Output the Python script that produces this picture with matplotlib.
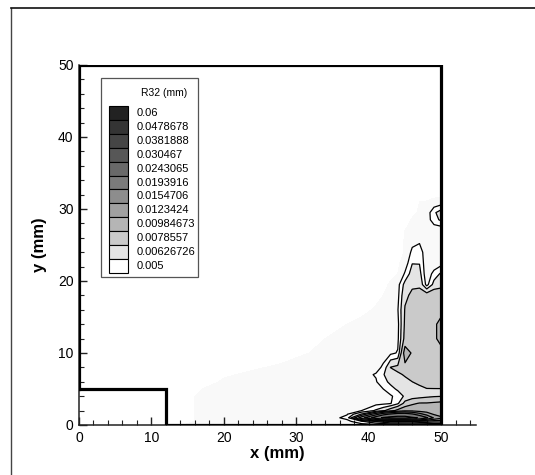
import numpy as np
import matplotlib
matplotlib.use("Agg")
import matplotlib.pyplot as plt
from matplotlib.patches import Rectangle
from matplotlib.lines import Line2D
from matplotlib.transforms import Affine2D

plt.rcParams['font.family'] = ['Liberation Sans', 'DejaVu Sans']

# ---- data ----
legend_title = "R32 (mm)"
level_labels = ['0.06', '0.0478678', '0.0381888', '0.030467', '0.0243065',
                '0.0193916', '0.0154706', '0.0123424', '0.00984673',
                '0.0078557', '0.00626726', '0.005']
swatch_colors = ['#222222', '#343434', '#454545', '#575757', '#696969',
                 '#7b7b7b', '#8d8d8d', '#a0a0a0', '#b5b5b5',
                 '#cacaca', '#e4e4e4', '#ffffff']
x_ticks = [0, 10, 20, 30, 40, 50]
y_ticks = [0, 10, 20, 30, 40, 50]

# grid nodes (mm)
x_nodes = [12, 20, 28, 34, 37, 39, 41, 42, 43, 44, 45, 46, 47, 48, 49, 50]
y_nodes = [0, 0.5, 1.0, 1.5, 2, 3, 4, 5, 6, 7, 8, 10, 12, 14, 16, 18, 19.5,
           21, 22.5, 24, 25.5, 27, 28.5, 29.5, 31, 33, 40, 50]
# R32 values, in micrometres (rows = y_nodes)
r32_um = [
    [3.3, 4, 4, 4, 4.2, 4.4, 4.5, 4.5, 4.6, 4.6, 4.7, 4.7, 4.7, 4.7, 4.7, 4.7],
    [3, 4, 4, 4.2, 4.6, 6, 8, 9, 10, 10, 10, 10, 9.5, 9, 8.5, 8.5],
    [3, 4, 4, 4.2, 5.4, 14, 22, 25, 26, 26, 26, 25, 24, 20, 15, 13],
    [3, 4, 4, 4.2, 4.9, 8, 14, 18, 20, 22, 22, 20, 17, 14, 12, 11],
    [3, 4, 4, 4, 4.4, 5, 6.5, 7.5, 9, 10.5, 11.5, 11.5, 11, 11, 11, 11],
    [3, 4, 4, 4, 4.3, 4.5, 4.6, 4.7, 4.9, 6, 8.5, 9.5, 10, 10, 10.2, 10.4],
    [3, 4, 4, 4, 4.2, 4.4, 4.5, 4.6, 4.8, 5.5, 6.5, 7, 7.2, 7.5, 7.7, 7.8],
    [3, 3.8, 4, 4, 4.2, 4.5, 4.7, 5, 5.8, 6.5, 7, 7.2, 7.5, 7.8, 7.8, 7.8],
    [2.5, 3.6, 4, 4, 4.2, 4.6, 4.9, 5.8, 6.6, 7, 7.5, 7.85, 8.2, 8.5, 8.7, 8.8],
    [2, 3.4, 3.9, 4, 4.2, 4.6, 5.1, 6.2, 6.8, 7.6, 8.0, 8.4, 8.8, 9.0, 9.2, 9.3],
    [1.5, 3, 3.7, 4, 4.1, 4.3, 4.6, 5.2, 7.9, 8.3, 9.3, 9.4, 9.4, 9.4, 9.5, 9.5],
    [1, 2, 3, 3.8, 4, 4.2, 4.4, 4.5, 4.7, 5.1, 11, 9.6, 9.4, 9.4, 9.5, 9.6],
    [0.5, 1.5, 2.5, 3.5, 3.8, 4, 4.2, 4.3, 4.5, 4.7, 8.5, 9.3, 9.4, 9.5, 9.7, 10.1],
    [0, 1, 2, 3, 3.5, 3.7, 3.9, 4, 4.2, 4.6, 8.2, 9, 9.3, 9.5, 9.7, 10.1],
    [0, 0.5, 1.5, 2.5, 3, 3.3, 3.6, 3.8, 4, 4.9, 8, 8.6, 9, 9.3, 9.5, 9.6],
    [0, 0, 1, 2, 2.5, 3, 3.3, 3.5, 3.8, 4.6, 7.5, 8.2, 8.6, 8.9, 9.2, 9.3],
    [0, 0, 0.5, 1.5, 2, 2.5, 3, 3.3, 3.6, 4.5, 6.8, 7.6, 7.5, 4.5, 6.8, 7.2],
    [0, 0, 0, 1, 1.5, 2, 2.5, 3, 3.3, 3.5, 5.2, 7, 6.8, 4, 5.5, 6.5],
    [0, 0, 0, 0.5, 1, 1.5, 2, 2.5, 3, 3.2, 4.2, 6.2, 6.2, 4, 4, 4.5],
    [0, 0, 0, 0, 0.5, 1, 1.5, 2, 2.5, 3, 3.6, 5.4, 5.8, 4, 3.8, 3.8],
    [0, 0, 0, 0, 0, 0.5, 1, 1.5, 2, 3, 3.6, 4.5, 4.8, 4.0, 3.8, 3.8],
    [0, 0, 0, 0, 0, 0, 0.5, 1, 1.5, 2.5, 3.5, 3.8, 3.8, 3.8, 4.0, 4.0],
    [0, 0, 0, 0, 0, 0, 0, 0.5, 1, 2, 3, 3.6, 3.8, 4.2, 5.8, 6.5],
    [0, 0, 0, 0, 0, 0, 0, 0, 0.5, 1.5, 2.5, 3.3, 3.6, 4.2, 6, 7],
    [0, 0, 0, 0, 0, 0, 0, 0, 0, 1, 2, 3, 3.5, 3.6, 4, 4.2],
    [0, 0, 0, 0, 0, 0, 0, 0, 0, 0.5, 1, 1.5, 2, 2, 2, 2],
    [0] * 16,
    [0] * 16,
]
# domain outline (mm)
wall_x = [0, 12, 12, 50, 50, 0, 0]
wall_y = [5, 5, 0, 0, 50, 50, 5]

# ---- figure ----
W, H = 535, 475
fig = plt.figure(figsize=(W / 100, H / 100), dpi=100)
pix = Affine2D().scale(1 / W, -1 / H).translate(0, 1) + fig.transFigure

ax = fig.add_axes([79 / W, 1 - 425 / H, (476 - 79) / W, (425 - 65) / H])
ax.set_xlim(0, 54.8)
ax.set_ylim(0, 50)

Xg, Yg = np.meshgrid(np.array(x_nodes, float), np.array(y_nodes, float))
Z = np.array(r32_um, float) / 1000.0
levels = sorted(float(s) for s in level_labels)
band_colors = ['#f9f9f9'] + swatch_colors[::-1]
fill_levels = [0.0035] + levels + [1.0]
ax.contourf(Xg, Yg, Z, levels=fill_levels, colors=band_colors)
ax.contour(Xg, Yg, Z, levels=levels, colors='k', linewidths=0.9)

ax.plot(wall_x, wall_y, color='k', lw=2.3, solid_joinstyle='miter',
        solid_capstyle='projecting', zorder=5)

for s in ['top', 'right']:
    ax.spines[s].set_visible(False)
for s in ['left', 'bottom']:
    ax.spines[s].set_linewidth(1.1)
    ax.spines[s].set_color('#222222')
ax.set_xticks(x_ticks)
ax.set_yticks(y_ticks)
ax.set_xticks(np.arange(0, 55, 2), minor=True)
ax.set_yticks(np.arange(0, 51, 2), minor=True)
ax.tick_params(which='major', direction='in', length=6, width=1.0,
               labelsize=10, pad=4, color='#222222')
ax.tick_params(which='minor', direction='in', length=3.5, width=0.8,
               color='#222222')
ax.set_xlabel('x (mm)', fontsize=12, fontweight='bold', labelpad=1)
ax.set_ylabel('y (mm)', fontsize=12, fontweight='bold', labelpad=8)

# figure frame (left and top edges)
fig.add_artist(Line2D([11, 11], [8, H + 5], transform=pix, color='#444444', lw=1.0))
fig.add_artist(Line2D([11, W + 5], [8, 8], transform=pix, color='#111111', lw=1.2))

# legend
fig.add_artist(Rectangle((101, 78), 97, 199, transform=pix, facecolor='white',
                         edgecolor='#555555', lw=0.9, zorder=10))
fig.text(164 / W, 1 - 93 / H, legend_title, fontsize=7.5, ha='center',
         va='center', zorder=11)
row0, dy = 113, 13.9
for i, (lab, col) in enumerate(zip(level_labels, swatch_colors)):
    yc = row0 + i * dy
    fig.add_artist(Rectangle((109, yc - dy / 2), 19, dy, transform=pix,
                             facecolor=col, edgecolor='k', lw=0.8, zorder=11))
    fig.text(137 / W, 1 - yc / H, lab, fontsize=8, ha='left', va='center',
             zorder=11)

fig.savefig('out.png', dpi=100)
